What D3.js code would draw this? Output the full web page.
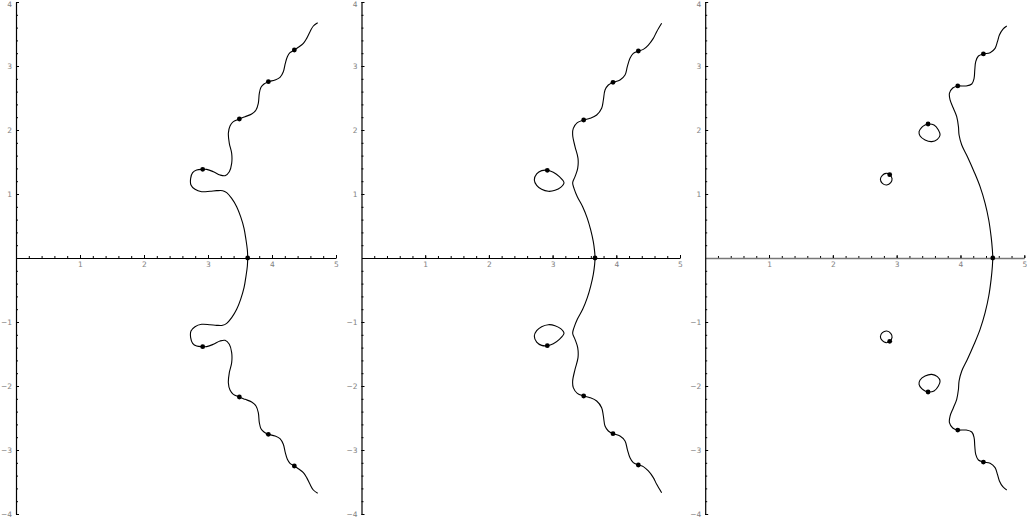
<!DOCTYPE html>
<html><head><meta charset="utf-8">
<script src="https://cdn.jsdelivr.net/npm/d3@7"></script>
<style>body{margin:0;background:#fff}svg{display:block}</style>
</head><body>
<script>
// ---------- data (complex-plane coordinates) ----------
const xMajor = [1, 2, 3, 4, 5];
const xMajorLabels = ["1", "2", "3", "4", "5"];
const yMajor = [-4, -3, -2, -1, 1, 2, 3, 4];
const yMajorLabels = ["\u22124", "\u22123", "\u22122", "\u22121", "1", "2", "3", "4"];

// Panel 1
const p1Main = [
[4.714,3.677],[4.646,3.625],[4.594,3.536],[4.542,3.432],[4.490,3.354],[4.411,3.292],[4.349,3.250],[4.281,3.208],[4.240,3.146],[4.208,3.042],[4.177,2.911],[4.125,2.823],[4.047,2.781],[3.943,2.755],[3.875,2.719],[3.828,2.667],[3.802,2.573],[3.786,2.417],[3.750,2.313],[3.682,2.250],[3.578,2.208],[3.490,2.172],[3.396,2.130],[3.344,2.063],[3.318,1.948],[3.333,1.792],[3.370,1.635],[3.370,1.479],[3.333,1.349],[3.266,1.286],[3.188,1.297],[3.083,1.349],[2.979,1.385],[2.917,1.385],[2.823,1.375],[2.760,1.333],[2.729,1.245],[2.734,1.141],[2.797,1.073],[2.901,1.036],[3.031,1.042],[3.135,1.052],[3.229,1.052],[3.292,1.021],[3.370,0.932],[3.448,0.802],[3.510,0.646],[3.563,0.464],[3.594,0.281],[3.615,0.125],[3.620,0],
[3.615,-0.125],[3.594,-0.281],[3.563,-0.464],[3.510,-0.646],[3.448,-0.802],[3.370,-0.932],[3.292,-1.021],[3.229,-1.052],[3.135,-1.052],[3.031,-1.042],[2.901,-1.036],[2.797,-1.073],[2.734,-1.141],[2.729,-1.245],[2.760,-1.333],[2.823,-1.375],[2.917,-1.385],[2.979,-1.385],[3.083,-1.349],[3.188,-1.297],[3.266,-1.286],[3.333,-1.349],[3.370,-1.479],[3.370,-1.635],[3.333,-1.792],[3.318,-1.948],[3.344,-2.063],[3.396,-2.130],[3.490,-2.172],[3.578,-2.208],[3.682,-2.250],[3.750,-2.313],[3.786,-2.417],[3.802,-2.573],[3.828,-2.667],[3.875,-2.719],[3.943,-2.755],[4.047,-2.781],[4.125,-2.823],[4.177,-2.911],[4.208,-3.042],[4.240,-3.146],[4.281,-3.208],[4.349,-3.250],[4.411,-3.292],[4.490,-3.354],[4.542,-3.432],[4.594,-3.536],[4.646,-3.625],[4.714,-3.677]
];
const p1Zeros = [[3.620,0],[2.917,1.385],[2.917,-1.385],[3.490,2.172],[3.490,-2.172],[3.943,2.755],[3.943,-2.755],[4.349,3.250],[4.349,-3.250]];

// Panel 2
const p2Main = [
[4.712,3.667],[4.634,3.536],[4.581,3.432],[4.503,3.328],[4.424,3.260],[4.346,3.234],[4.267,3.198],[4.215,3.120],[4.173,2.990],[4.137,2.859],[4.058,2.781],[3.948,2.745],[3.875,2.703],[3.823,2.625],[3.797,2.469],[3.770,2.339],[3.692,2.234],[3.587,2.182],[3.488,2.156],[3.388,2.115],[3.325,2.026],[3.315,1.922],[3.352,1.740],[3.399,1.557],[3.394,1.401],[3.352,1.271],[3.315,1.177],[3.336,1.089],[3.388,0.958],[3.472,0.802],[3.545,0.620],[3.598,0.438],[3.639,0.255],[3.660,0.099],[3.666,0],
[3.660,-0.099],[3.639,-0.255],[3.598,-0.438],[3.545,-0.620],[3.472,-0.802],[3.388,-0.958],[3.336,-1.089],[3.315,-1.177],[3.352,-1.271],[3.394,-1.401],[3.399,-1.557],[3.352,-1.740],[3.315,-1.922],[3.325,-2.026],[3.388,-2.115],[3.488,-2.156],[3.587,-2.182],[3.692,-2.234],[3.770,-2.339],[3.797,-2.469],[3.823,-2.625],[3.875,-2.703],[3.948,-2.745],[4.058,-2.781],[4.137,-2.859],[4.173,-2.990],[4.215,-3.120],[4.267,-3.198],[4.346,-3.234],[4.424,-3.260],[4.503,-3.328],[4.581,-3.432],[4.634,-3.536],[4.712,-3.667]
];
const p2LoopUp = [[2.917,1.370],[3.011,1.339],[3.106,1.271],[3.179,1.177],[3.127,1.104],[3.038,1.057],[2.933,1.042],[2.828,1.073],[2.750,1.135],[2.713,1.219],[2.750,1.313],[2.828,1.365]];
const p2LoopDown = [[2.917,-1.370],[3.011,-1.339],[3.106,-1.271],[3.179,-1.177],[3.127,-1.104],[3.038,-1.057],[2.933,-1.042],[2.828,-1.073],[2.750,-1.135],[2.713,-1.219],[2.750,-1.313],[2.828,-1.365]];
const p2Zeros = [[3.666,0],[2.917,1.370],[2.917,-1.370],[3.488,2.156],[3.488,-2.156],[3.948,2.745],[3.948,-2.745],[4.346,3.234],[4.346,-3.234]];

// Panel 3
const p3Main = [
[4.725,3.625],[4.663,3.573],[4.610,3.484],[4.579,3.380],[4.542,3.276],[4.464,3.208],[4.359,3.188],[4.281,3.156],[4.239,3.068],[4.224,2.938],[4.213,2.807],[4.177,2.719],[4.088,2.688],[3.957,2.688],[3.879,2.656],[3.827,2.573],[3.837,2.469],[3.889,2.339],[3.941,2.208],[3.968,2.052],[3.978,1.922],[4.020,1.766],[4.109,1.583],[4.213,1.349],[4.307,1.115],[4.386,0.854],[4.443,0.594],[4.480,0.333],[4.500,0.125],[4.506,0],
[4.500,-0.125],[4.480,-0.333],[4.443,-0.594],[4.386,-0.854],[4.307,-1.115],[4.213,-1.349],[4.109,-1.583],[4.020,-1.766],[3.978,-1.922],[3.968,-2.052],[3.941,-2.208],[3.889,-2.339],[3.837,-2.469],[3.827,-2.573],[3.879,-2.656],[3.957,-2.688],[4.088,-2.688],[4.177,-2.719],[4.213,-2.807],[4.224,-2.938],[4.239,-3.068],[4.281,-3.156],[4.359,-3.188],[4.464,-3.208],[4.542,-3.276],[4.579,-3.380],[4.610,-3.484],[4.663,-3.573],[4.725,-3.625]
];
const p3LoopAUp = [[3.492,2.094],[3.586,2.078],[3.654,2.000],[3.680,1.922],[3.638,1.854],[3.550,1.818],[3.445,1.844],[3.367,1.906],[3.351,1.974],[3.393,2.042],[3.445,2.078]];
const p3LoopADown = [[3.492,-2.094],[3.586,-2.078],[3.654,-2.000],[3.680,-1.922],[3.638,-1.854],[3.550,-1.818],[3.445,-1.844],[3.367,-1.906],[3.351,-1.974],[3.393,-2.042],[3.445,-2.078]];
const p3LoopBUp = [[2.891,1.302],[2.928,1.240],[2.907,1.177],[2.844,1.141],[2.776,1.167],[2.745,1.229],[2.776,1.292],[2.834,1.323]];
const p3LoopBDown = [[2.891,-1.302],[2.928,-1.240],[2.907,-1.177],[2.844,-1.141],[2.776,-1.167],[2.745,-1.229],[2.776,-1.292],[2.834,-1.323]];
const p3Zeros = [[4.506,0],[2.891,1.302],[2.891,-1.302],[3.492,2.094],[3.492,-2.094],[3.957,2.688],[3.957,-2.688],[4.359,3.188],[4.359,-3.188]];

// ---------- drawing ----------
const W = 1027, H = 527;
const svg = d3.select("body").append("svg").attr("width", W).attr("height", H);

const panels = [
  {x0: 16,    x1: 336,    open: [p1Main], closed: [], zeros: p1Zeros, xAxisColor: "#000", xAxisWidth: 1},
  {x0: 361.5, x1: 680,    open: [p2Main], closed: [p2LoopUp, p2LoopDown], zeros: p2Zeros, xAxisColor: "#000", xAxisWidth: 1},
  {x0: 705.2, x1: 1024.3, open: [p3Main], closed: [p3LoopAUp, p3LoopADown, p3LoopBUp, p3LoopBDown], zeros: p3Zeros, xAxisColor: "#777", xAxisWidth: 1.6}
];

const minorX = d3.range(1, 26).map(i => i / 5);
const minorY = d3.range(-20, 21).filter(i => i !== 0).map(i => i / 5);

panels.forEach(p => {
  const x = d3.scaleLinear().domain([0, 5]).range([p.x0, p.x1]);
  const y = d3.scaleLinear().domain([-4, 4]).range([514, 2]);
  const g = svg.append("g");

  // minor ticks x
  g.append("g").attr("transform", `translate(0,${y(0)})`)
    .call(d3.axisBottom(x).tickValues(minorX).tickSize(-2).tickSizeOuter(0).tickFormat(""))
    .call(a => a.select(".domain").remove())
    .call(a => a.selectAll("line").attr("stroke", "#000"));
  // major x axis
  const xa = g.append("g").attr("transform", `translate(0,${y(0)})`)
    .call(d3.axisBottom(x).tickValues(xMajor).tickSize(-3).tickSizeOuter(0).tickPadding(4)
      .tickFormat((d, i) => xMajorLabels[i]));
  xa.select(".domain").attr("stroke", p.xAxisColor).attr("stroke-width", p.xAxisWidth);
  xa.selectAll("line").attr("stroke", "#000");
  xa.selectAll("text").attr("fill", "#808080").attr("font-size", 7.5).attr("font-family", "DejaVu Sans, sans-serif");

  // minor ticks y
  g.append("g").attr("transform", `translate(${x(0)},0)`)
    .call(d3.axisLeft(y).tickValues(minorY).tickSize(-2).tickSizeOuter(0).tickFormat(""))
    .call(a => a.select(".domain").remove())
    .call(a => a.selectAll("line").attr("stroke", "#000"));
  const ya = g.append("g").attr("transform", `translate(${x(0)},0)`)
    .call(d3.axisLeft(y).tickValues(yMajor).tickSize(-3).tickSizeOuter(0).tickPadding(4)
      .tickFormat((d, i) => yMajorLabels[i]));
  ya.select(".domain").attr("stroke", "#000").attr("stroke-width", 1.2);
  ya.selectAll("line").attr("stroke", "#000");
  ya.selectAll("text").attr("fill", "#808080").attr("font-size", 7.5).attr("font-family", "DejaVu Sans, sans-serif");
  // keep the top label inside the picture
  ya.selectAll(".tick").filter(d => d === 4).select("text").attr("y", 2.5);

  const lineOpen = d3.line().x(d => x(d[0])).y(d => y(d[1])).curve(d3.curveCatmullRom.alpha(0.5));
  const lineClosed = d3.line().x(d => x(d[0])).y(d => y(d[1])).curve(d3.curveCatmullRomClosed.alpha(0.5));

  p.open.forEach(c => g.append("path").attr("d", lineOpen(c))
    .attr("fill", "none").attr("stroke", "#000").attr("stroke-width", 1.1));
  p.closed.forEach(c => g.append("path").attr("d", lineClosed(c))
    .attr("fill", "none").attr("stroke", "#000").attr("stroke-width", 1.1));

  g.selectAll("circle.z").data(p.zeros).join("circle").attr("class", "z")
    .attr("cx", d => x(d[0])).attr("cy", d => y(d[1])).attr("r", 2.4).attr("fill", "#000");
});
</script>
</body></html>
